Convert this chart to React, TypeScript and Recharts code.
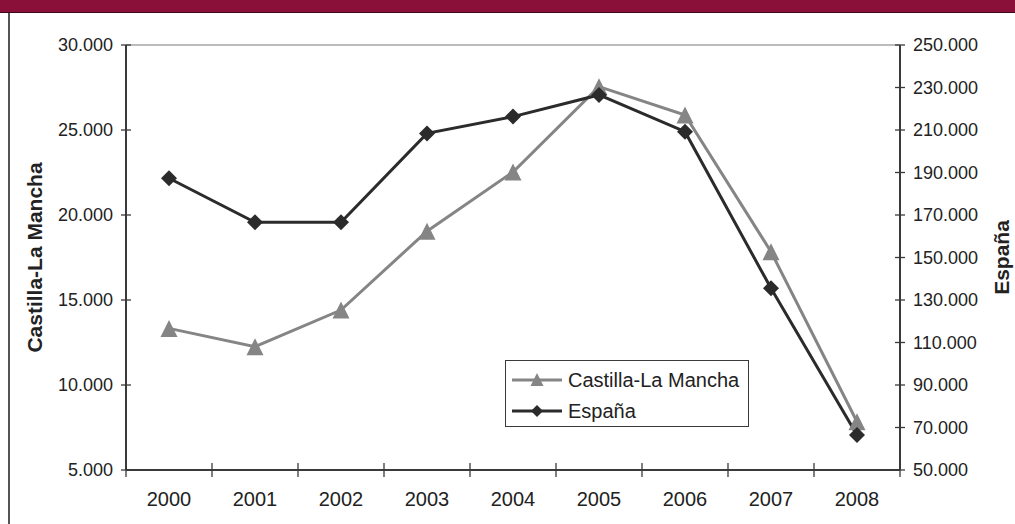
import React from "react";
import { LineChart, Line, XAxis, YAxis, ReferenceLine, Legend } from "recharts";

const years = ["2000", "2001", "2002", "2003", "2004", "2005", "2006", "2007", "2008"];
const castilla = [13330, 12250, 14410, 19050, 22530, 27550, 25880, 17840, 7840];
const espana = [187300, 166600, 166600, 208400, 216300, 226500, 209200, 135500, 66500];
const leftTicks = [5000, 10000, 15000, 20000, 25000, 30000];
const rightTicks = [50000, 70000, 90000, 110000, 130000, 150000, 170000, 190000, 210000, 230000, 250000];

const W = 1015;
const H = 524;
const LEFT_W = 126;
const RIGHT_W = 115;
const BAND = (W - LEFT_W - RIGHT_W) / years.length;

const FONT = '"Liberation Sans", Arial, sans-serif';
const GRAY = "#858585";
const DARK = "#2b2b2b";
const AXIS = "#3a3a3a";
const TEXT = "#222";

const data = years.map((y, i) => ({ year: y, castilla: castilla[i], espana: espana[i] }));

function fmt(v: number) {
  return String(v).replace(/\B(?=(\d{3})+(?!\d))/g, ".");
}

function Triangle(props: any) {
  const { cx, cy, index } = props;
  if (cx == null || cy == null) return null;
  const s = 8.5;
  return (
    <path
      key={`t${index}`}
      d={`M${cx},${cy - s} L${cx + s},${cy + s} L${cx - s},${cy + s} Z`}
      fill={GRAY}
    />
  );
}

function Diamond(props: any) {
  const { cx, cy, index } = props;
  if (cx == null || cy == null) return null;
  const s = 8;
  return (
    <path
      key={`d${index}`}
      d={`M${cx},${cy - s} L${cx + s},${cy} L${cx},${cy + s} L${cx - s},${cy} Z`}
      fill={DARK}
    />
  );
}

function LeftTick(props: any) {
  const { x, y, payload } = props;
  const ax = x + 13;
  return (
    <g>
      <line x1={ax - 5} x2={ax + 5} y1={y} y2={y} stroke={AXIS} strokeWidth={1.3} />
      <text x={x} y={y} dy="0.36em" textAnchor="end" fontSize={18} fill={TEXT} fontFamily={FONT}>
        {fmt(payload.value)}
      </text>
    </g>
  );
}

function RightTick(props: any) {
  const { x, y, payload } = props;
  const ax = x - 13;
  return (
    <g>
      <line x1={ax - 5} x2={ax + 5} y1={y} y2={y} stroke={AXIS} strokeWidth={1.3} />
      <text x={x} y={y} dy="0.36em" textAnchor="start" fontSize={18} fill={TEXT} fontFamily={FONT}>
        {fmt(payload.value)}
      </text>
    </g>
  );
}

function YearTick(props: any) {
  const { x, y, payload, index } = props;
  const ay = y - 29;
  const last = index === years.length - 1;
  return (
    <g>
      <line x1={x - BAND / 2} x2={x - BAND / 2} y1={ay - 7} y2={ay + 7} stroke={AXIS} strokeWidth={1.3} />
      {last && (
        <line x1={x + BAND / 2} x2={x + BAND / 2} y1={ay - 7} y2={ay + 7} stroke={AXIS} strokeWidth={1.3} />
      )}
      <text x={x} y={y} dy="0.36em" textAnchor="middle" fontSize={20} fill={TEXT} fontFamily={FONT}>
        {payload.value}
      </text>
    </g>
  );
}

function axisTitle(value: string, dx: number) {
  return (props: any) => {
    const vb = props.viewBox || {};
    const cx = vb.x + dx;
    const cy = vb.y + vb.height / 2;
    return (
      <text
        x={cx}
        y={cy}
        dy="0.36em"
        textAnchor="middle"
        transform={`rotate(-90 ${cx} ${cy})`}
        fontSize={21}
        fontWeight="bold"
        fill={TEXT}
        fontFamily={FONT}
      >
        {value}
      </text>
    );
  };
}

function LegendBox() {
  const rows = [
    { label: "Castilla-La Mancha", color: GRAY, shape: "triangle" },
    { label: "España", color: DARK, shape: "diamond" },
  ];
  return (
    <div
      style={{
        width: 244,
        height: 67,
        boxSizing: "border-box",
        border: `1px solid ${AXIS}`,
        background: "#fff",
        paddingTop: 3,
        fontFamily: FONT,
      }}
    >
      {rows.map((r) => (
        <div key={r.label} style={{ display: "flex", alignItems: "center", height: 31 }}>
          <svg width={62} height={20} style={{ flex: "none" }}>
            <line x1={6} x2={56} y1={10} y2={10} stroke={r.color} strokeWidth={3} />
            {r.shape === "triangle" ? (
              <path d="M31,3 L37.5,16 L24.5,16 Z" fill={r.color} />
            ) : (
              <path d="M31,4 L37,10 L31,16 L25,10 Z" fill={r.color} />
            )}
          </svg>
          <span style={{ fontSize: 20, color: TEXT, lineHeight: "20px" }}>{r.label}</span>
        </div>
      ))}
    </div>
  );
}

export default function App() {
  return (
    <div style={{ position: "absolute", left: 0, top: 0, width: W, height: H, background: "#fff" }}>
      <div
        style={{
          position: "absolute",
          left: 0,
          top: 0,
          width: W,
          height: 12,
          background: "#8b1039",
          borderBottom: "1px solid #3a0a18",
        }}
      />
      <div style={{ position: "absolute", left: 8, top: 13, width: 1.5, height: H - 13, background: "#555" }} />
      <LineChart width={W} height={H} data={data} margin={{ top: 45, right: 0, bottom: 0, left: 0 }}>
        <XAxis
          dataKey="year"
          height={54}
          padding={{ left: BAND / 2, right: BAND / 2 }}
          tickSize={7}
          tickMargin={22}
          tickLine={false}
          axisLine={{ stroke: AXIS, strokeWidth: 2 }}
          tick={<YearTick />}
          interval={0}
        />
        <YAxis
          yAxisId="left"
          orientation="left"
          width={LEFT_W}
          domain={[5000, 30000]}
          ticks={leftTicks}
          allowDataOverflow
          tickSize={5}
          tickMargin={8}
          tickLine={false}
          axisLine={{ stroke: AXIS, strokeWidth: 2 }}
          tick={<LeftTick />}
          label={{ content: axisTitle("Castilla-La Mancha", 34) }}
        />
        <YAxis
          yAxisId="right"
          orientation="right"
          width={RIGHT_W}
          domain={[50000, 250000]}
          ticks={rightTicks}
          allowDataOverflow
          tickSize={5}
          tickMargin={8}
          tickLine={false}
          axisLine={{ stroke: AXIS, strokeWidth: 2 }}
          tick={<RightTick />}
          label={{ content: axisTitle("España", 101) }}
        />
        <ReferenceLine yAxisId="left" y={30000} stroke="#a6a6a6" strokeWidth={1.5} />
        <Legend
          layout="vertical"
          align="center"
          verticalAlign="middle"
          wrapperStyle={{ left: 505, top: 360, width: 244 }}
          content={() => <LegendBox />}
        />
        <Line
          yAxisId="left"
          dataKey="castilla"
          name="Castilla-La Mancha"
          stroke={GRAY}
          strokeWidth={3}
          dot={Triangle}
          activeDot={false}
          isAnimationActive={false}
        />
        <Line
          yAxisId="right"
          dataKey="espana"
          name="España"
          stroke={DARK}
          strokeWidth={3}
          dot={Diamond}
          activeDot={false}
          isAnimationActive={false}
        />
      </LineChart>
    </div>
  );
}
